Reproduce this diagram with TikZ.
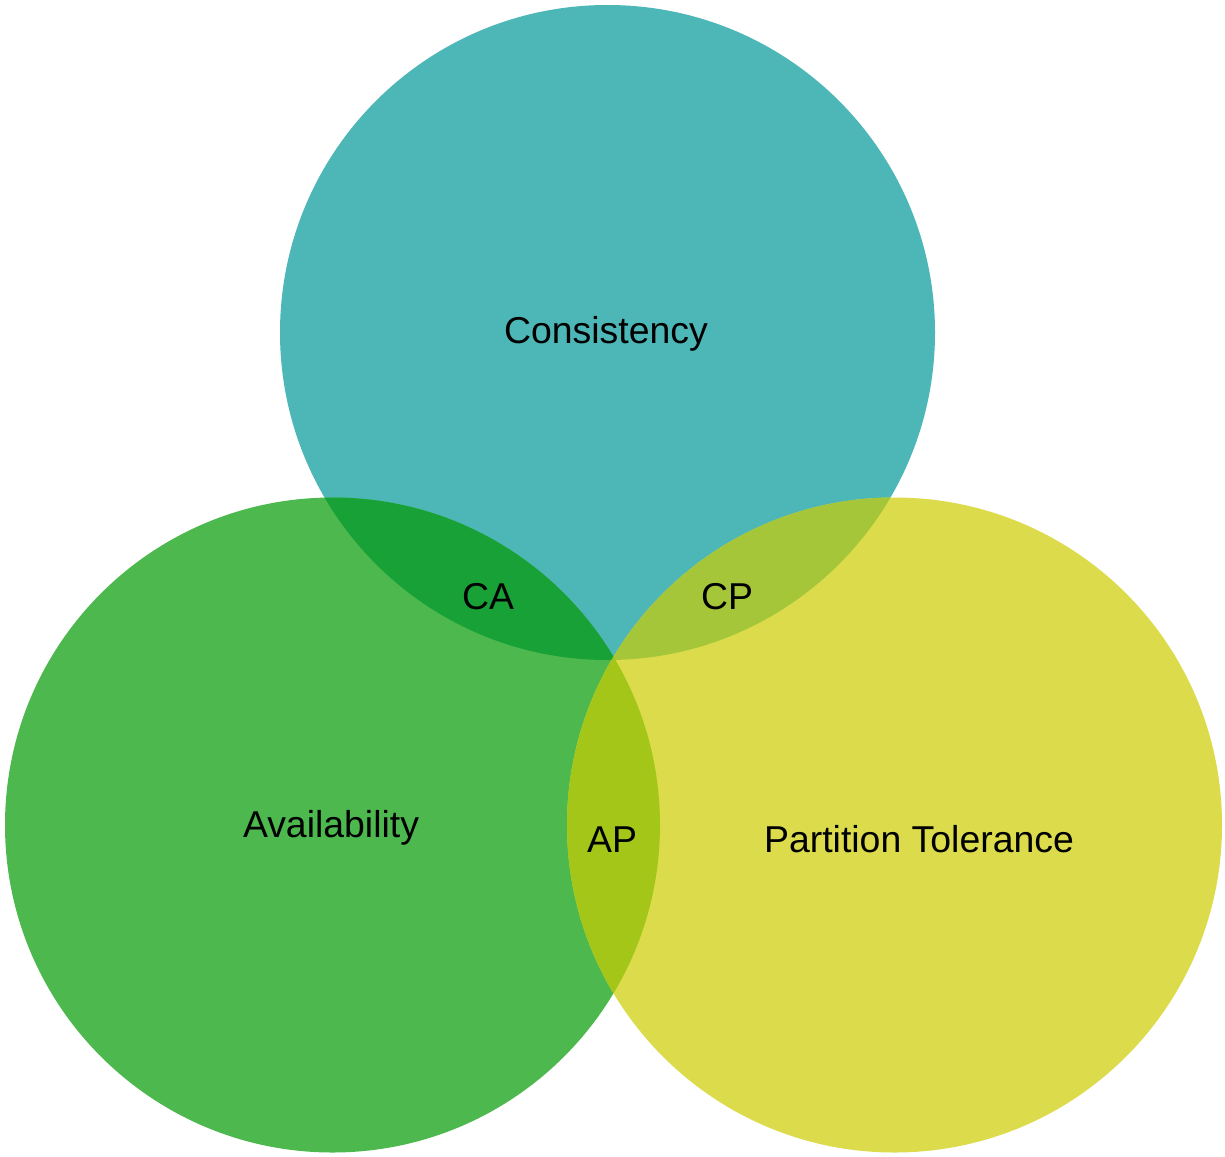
\documentclass[tikz,border=0pt]{standalone}
\usepackage{fontspec}
\setmainfont{Liberation Sans}
\definecolor{cC}{HTML}{4DB6B7}
\definecolor{cA}{HTML}{4DB84E}
\definecolor{cP}{HTML}{DBDB4B}
\definecolor{cCA}{HTML}{17A137}
\definecolor{cCP}{HTML}{A6C63A}
\definecolor{cAP}{HTML}{A4C619}
\begin{document}
\begin{tikzpicture}[x=1pt,y=-1pt,
  lbl/.style={font=\fontsize{37.4}{40}\selectfont, anchor=base, inner sep=0pt, text=black}]
\useasboundingbox (0,0) rectangle (1225,1156);
\def\R{327.5}
\fill[cC] (607.5,332.5) circle (\R);
\fill[cA] (332.5,825) circle (\R);
\fill[cP] (894.5,825) circle (\R);
\begin{scope}
  \clip (607.5,332.5) circle (\R);
  \fill[cCA] (332.5,825) circle (\R);
  \fill[cCP] (894.5,825) circle (\R);
\end{scope}
\begin{scope}
  \clip (332.5,825) circle (\R);
  \fill[cAP] (894.5,825) circle (\R);
\end{scope}
\node[lbl] (cons) at (606,343) {Consistency};
\node[lbl] (avail) at (331,837) {Availability};
\node[lbl] (part) at (919,852) {Partition Tolerance};
\node[lbl] (ca) at (488,609) {CA};
\node[lbl] (cp) at (727,609) {CP};
\node[lbl] (ap) at (612,852) {AP};
\end{tikzpicture}
\end{document}
